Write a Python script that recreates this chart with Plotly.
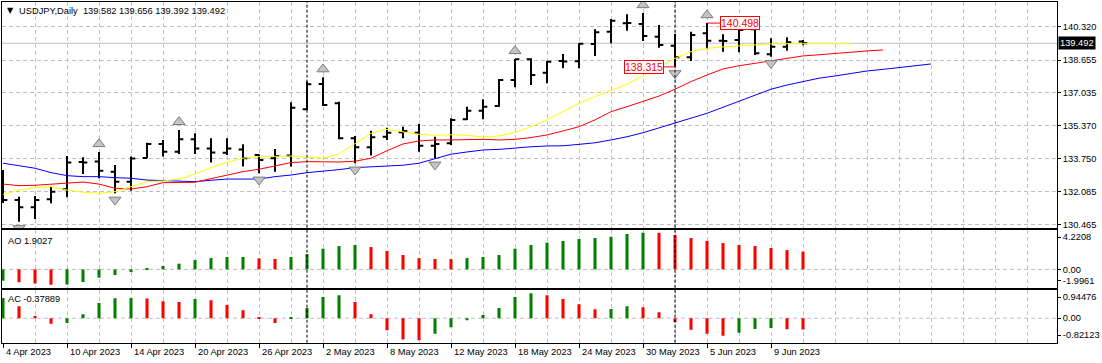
import plotly.graph_objects as go
from datetime import date

# ---------------- data ----------------
symbol = "USDJPY,Daily"
dates = ["2023-04-04", "2023-04-05", "2023-04-06", "2023-04-07", "2023-04-10", "2023-04-11",
         "2023-04-12", "2023-04-13", "2023-04-14", "2023-04-17", "2023-04-18", "2023-04-19",
         "2023-04-20", "2023-04-21", "2023-04-24", "2023-04-25", "2023-04-26", "2023-04-27",
         "2023-04-28", "2023-05-01", "2023-05-02", "2023-05-03", "2023-05-04", "2023-05-05",
         "2023-05-08", "2023-05-09", "2023-05-10", "2023-05-11", "2023-05-12", "2023-05-15",
         "2023-05-16", "2023-05-17", "2023-05-18", "2023-05-19", "2023-05-22", "2023-05-23",
         "2023-05-24", "2023-05-25", "2023-05-26", "2023-05-29", "2023-05-30", "2023-05-31",
         "2023-06-01", "2023-06-02", "2023-06-05", "2023-06-06", "2023-06-07", "2023-06-08",
         "2023-06-09", "2023-06-12", "2023-06-13"]
opens = [132.80, 131.68, 131.31, 131.71, 132.21, 133.57, 133.59, 133.09, 132.59, 133.77,
         134.47, 134.08, 134.70, 134.25, 134.03, 134.20, 133.92, 133.76, 133.89, 136.20,
         137.46, 136.50, 134.75, 134.30, 134.83, 135.05, 135.03, 134.38, 134.50, 135.70,
         136.13, 136.36, 137.66, 138.69, 138.02, 138.61, 138.60, 139.46, 140.07, 140.49,
         140.45, 139.82, 139.37, 138.79, 139.99, 139.62, 139.66, 140.19, 138.94, 139.32, 139.582]
highs = [133.17, 131.84, 131.88, 132.34, 133.87, 133.81, 134.07, 133.42, 133.84, 134.53,
         134.67, 135.17, 135.00, 134.75, 134.75, 134.45, 133.95, 134.22, 136.55, 137.58,
         137.80, 136.58, 134.87, 135.13, 135.28, 135.33, 135.47, 134.83, 135.75, 136.33,
         136.70, 137.71, 138.71, 138.74, 138.62, 138.96, 139.49, 140.19, 140.70, 140.94,
         141.00, 140.40, 139.95, 140.07, 140.498, 139.94, 140.24, 140.24, 139.74, 139.79, 139.656]
lows = [131.53, 130.59, 130.73, 131.51, 131.81, 132.97, 132.76, 132.01, 132.14, 133.76,
        133.84, 133.97, 133.97, 133.54, 133.92, 133.34, 133.01, 133.09, 133.34, 136.16,
        136.36, 134.70, 133.51, 133.89, 134.67, 134.75, 134.08, 133.76, 134.42, 135.67,
        135.70, 136.33, 137.30, 137.41, 137.50, 138.24, 138.24, 138.86, 139.49, 140.12,
        139.61, 139.27, 138.315, 138.61, 139.19, 139.07, 139.04, 138.91, 138.82, 139.12, 139.392]
closes = [131.68, 131.31, 131.68, 132.09, 133.54, 133.55, 133.14, 132.59, 133.74, 134.47,
          134.08, 134.70, 134.25, 134.05, 134.25, 133.76, 133.67, 133.87, 136.28, 137.45,
          136.41, 134.75, 134.30, 134.80, 135.03, 135.12, 134.38, 134.47, 135.67, 136.13,
          136.33, 137.66, 138.69, 137.91, 138.57, 138.58, 139.47, 140.04, 140.62, 140.50,
          139.85, 139.41, 138.79, 139.90, 139.62, 139.60, 140.15, 138.99, 139.32, 139.54, 139.492]

# Alligator lines (already shifted forward: lips +3, teeth +5, jaw +8 bars)
lips = [131.96, 132.17, 132.29, 132.34, 132.17, 132.06, 132.01, 132.09, 132.34, 132.59,
        132.62, 132.72, 132.97, 133.29, 133.56, 133.76, 133.84, 133.87, 133.87, 133.81,
        133.76, 133.97, 134.50, 135.00, 135.20, 135.08, 134.95, 134.90, 134.93, 134.90,
        134.82, 134.87, 135.05, 135.33, 135.67, 136.08, 136.50, 136.83, 137.16, 137.45,
        137.86, 138.32, 138.74, 139.07, 139.24, 139.31, 139.36, 139.42, 139.46, 139.47,
        139.47, 139.47, 139.47, 139.47]
teeth = [132.47, 132.39, 132.41, 132.46, 132.54, 132.57, 132.47, 132.26, 132.22, 132.34,
         132.54, 132.56, 132.56, 132.74, 132.92, 133.09, 133.21, 133.37, 133.54, 133.59,
         133.59, 133.57, 133.61, 133.76, 134.13, 134.47, 134.62, 134.67, 134.67, 134.70,
         134.70, 134.67, 134.70, 134.79, 134.92, 135.12, 135.33, 135.67, 136.08, 136.33,
         136.58, 136.86, 137.20, 137.58, 137.91, 138.21, 138.37, 138.49, 138.61, 138.74,
         138.86, 138.92, 138.99, 139.06, 139.11, 139.16]
jaw = [133.51, 133.39, 133.26, 133.04, 132.89, 132.84, 132.84, 132.79, 132.76, 132.67,
       132.64, 132.59, 132.59, 132.66, 132.72, 132.72, 132.72, 132.84, 132.92, 133.04,
       133.11, 133.19, 133.29, 133.34, 133.37, 133.41, 133.51, 133.72, 133.96, 134.07,
       134.17, 134.20, 134.27, 134.33, 134.37, 134.38, 134.45, 134.53, 134.67, 134.83,
       135.03, 135.28, 135.50, 135.75, 136.00, 136.30, 136.61, 136.91, 137.20, 137.41,
       137.58, 137.75, 137.86, 137.99, 138.11, 138.19, 138.29, 138.37, 138.46]

ao = [-1.22, -1.37, -1.52, -1.65, -1.63, -1.36, -0.89, -0.61, -0.29, 0.14, 0.36, 0.61,
      1.00, 1.21, 1.32, 1.33, 1.18, 1.12, 1.32, 1.64, 2.22, 2.50, 2.61, 2.39, 1.97, 1.54,
      1.21, 1.11, 1.10, 1.21, 1.32, 1.54, 2.22, 2.61, 2.86, 3.04, 3.25, 3.36, 3.50, 3.79,
      3.93, 3.92, 3.68, 3.36, 3.04, 2.82, 2.61, 2.50, 2.29, 2.07, 1.9027]
ac = [0.68, 0.40, 0.07, -0.19, -0.16, 0.13, 0.51, 0.67, 0.68, 0.66, 0.57, 0.54, 0.64,
      0.60, 0.44, 0.27, 0.02, -0.16, 0.01, 0.34, 0.71, 0.77, 0.54, 0.13, -0.40, -0.71,
      -0.74, -0.52, -0.30, -0.07, 0.11, 0.34, 0.71, 0.84, 0.77, 0.64, 0.47, 0.30, 0.31,
      0.40, 0.37, 0.20, -0.13, -0.39, -0.52, -0.59, -0.49, -0.36, -0.33, -0.37, -0.37889]

fractal_up = [6, 11, 20, 32, 40, 44]
fractal_down = [1, 7, 16, 22, 27, 42, 48]
swing_high_idx = 44
swing_low_idx = 42

price_ticks = [140.320, 138.655, 137.035, 135.370, 133.750, 132.085, 130.465]
price_range = [130.279, 141.55]
ao_scale = [-1.9961, 4.2208]
ac_scale = [-0.82123, 0.94476]
label_every = 4

# ---------------- style / geometry ----------------
W, H = 1102, 363
GRID = "#c0c0c0"
GREEN = "#008000"
RED = "#ff0000"
FONT = "Liberation Sans"
FS = 9.3
PX_LEFT, PX_RIGHT = 2, 1057
BAR0_PX, BAR_STEP = 3, 16
MAIN_PX = (2, 228)
AO_PX = (230, 288)
AC_PX = (290, 342.7)


def fx(px):
    return px / W


def fy(px):
    return 1 - px / H


def dom(p):
    return [fy(p[1]), fy(p[0])]


idx = list(range(len(dates)))
xr = [(PX_LEFT - BAR0_PX) / BAR_STEP, (PX_RIGHT - BAR0_PX) / BAR_STEP]
ppx = (price_range[1] - price_range[0]) / (MAIN_PX[1] - MAIN_PX[0])
dts = [date.fromisoformat(d) for d in dates]


def hist_colors(v):
    cols = [GREEN]
    for k in range(1, len(v)):
        cols.append(GREEN if v[k] > v[k - 1] else RED)
    return cols


fig = go.Figure()

# Alligator
for vals, col in [(jaw, "#0000ff"), (teeth, "#ff0000"), (lips, "#ffff00")]:
    fig.add_trace(go.Scatter(x=list(range(len(vals))), y=vals, mode="lines",
                             line=dict(color=col, width=1), xaxis="x", yaxis="y",
                             hoverinfo="skip"))

# OHLC bars
fig.add_trace(go.Ohlc(x=idx, open=opens, high=highs, low=lows, close=closes,
                      increasing=dict(line=dict(color="black", width=2)),
                      decreasing=dict(line=dict(color="black", width=2)),
                      tickwidth=0.27, xaxis="x", yaxis="y"))

# Fractals
fig.add_trace(go.Scatter(x=fractal_up, y=[highs[i] + 8 * ppx for i in fractal_up],
                         mode="markers", xaxis="x", yaxis="y",
                         marker=dict(symbol="triangle-up", size=10.5, color="#c4c4c4",
                                     line=dict(color="#7c7c7c", width=1))))
fig.add_trace(go.Scatter(x=fractal_down, y=[lows[i] - 6.5 * ppx for i in fractal_down],
                         mode="markers", xaxis="x", yaxis="y",
                         marker=dict(symbol="triangle-down", size=10.5, color="#c4c4c4",
                                     line=dict(color="#7c7c7c", width=1))))

# AO / AC histograms
fig.add_trace(go.Bar(x=idx, y=ao, width=0.19, marker=dict(color=hist_colors(ao), line=dict(width=0)),
                     xaxis="x2", yaxis="y2"))
fig.add_trace(go.Bar(x=idx, y=ac, width=0.19, marker=dict(color=hist_colors(ac), line=dict(width=0)),
                     xaxis="x3", yaxis="y3"))

label_idx = list(range(0, len(dates), label_every))

xcommon = dict(domain=[fx(PX_LEFT), fx(PX_RIGHT)], range=xr, showline=True, mirror=True,
               linecolor="black", linewidth=1, zeroline=False, showticklabels=False,
               tickmode="array", tickvals=label_idx, showgrid=True, gridcolor=GRID,
               griddash="4px,3px", gridwidth=1,
               minor=dict(tickmode="linear", tick0=0, dtick=2, showgrid=True, gridcolor=GRID,
                          griddash="4px,3px", gridwidth=1, ticks=""))


def sub_ticks(rng, px):
    k = (rng[1] - rng[0]) / (px[1] - px[0])
    return [rng[1] - 7 * k, 0, rng[0] + 7.5 * k], [str(rng[1]), "0.00", str(rng[0])]


ao_tv, ao_tt = sub_ticks(ao_scale, AO_PX)
ac_tv, ac_tt = sub_ticks(ac_scale, AC_PX)

ycommon = dict(side="right", showline=True, mirror=True, linecolor="black", linewidth=1,
               zeroline=False, ticks="outside", ticklen=3, tickcolor="black",
               tickfont=dict(family=FONT, size=FS, color="black"), tickmode="array")

fig.update_layout(
    width=W, height=H, autosize=False, template="none",
    margin=dict(l=0, r=0, t=0, b=0, pad=0),
    paper_bgcolor="white", plot_bgcolor="white", showlegend=False,
    font=dict(family=FONT, size=FS, color="black"),
    xaxis=dict(xcommon, anchor="y", rangeslider=dict(visible=False), ticks=""),
    xaxis2=dict(xcommon, anchor="y2", matches="x", ticks=""),
    xaxis3=dict(xcommon, anchor="y3", matches="x", ticks="outside", ticklen=4, tickcolor="black"),
    yaxis=dict(ycommon, domain=dom(MAIN_PX), range=price_range, anchor="x",
               tickvals=price_ticks, ticktext=[f"{v:.3f}" for v in price_ticks],
               showgrid=True, gridcolor=GRID, griddash="4px,3px"),
    yaxis2=dict(ycommon, domain=dom(AO_PX), range=ao_scale, anchor="x2",
                tickvals=ao_tv, ticktext=ao_tt, showgrid=False),
    yaxis3=dict(ycommon, domain=dom(AC_PX), range=ac_scale, anchor="x3",
                tickvals=ac_tv, ticktext=ac_tt, showgrid=False),
)

shapes = []
# bid line
shapes.append(dict(type="line", xref="x domain", x0=0, x1=1, yref="y", y0=closes[-1], y1=closes[-1],
                   line=dict(color=GRID, width=1), layer="below"))
# zero lines
for ya in ["y2", "y3"]:
    shapes.append(dict(type="line", xref=ya.replace("y", "x") + " domain", x0=0, x1=1, yref=ya,
                       y0=0, y1=0, line=dict(color=GRID, width=1, dash="4px,3px"), layer="below"))
# month separators
for k in range(1, len(dts)):
    if dts[k].month != dts[k - 1].month:
        shapes.append(dict(type="line", xref="x", x0=k, x1=k, yref="paper",
                           y0=fy(AC_PX[1]), y1=fy(MAIN_PX[0]),
                           line=dict(color="black", width=1, dash="3px,2px"), layer="above"))
fig.update_layout(shapes=shapes)

ann = []
ann.append(dict(xref="paper", yref="paper", x=fx(5), y=fy(10), xanchor="left", yanchor="middle",
                text="▼", showarrow=False, font=dict(family="DejaVu Sans", size=8, color="black")))
ann.append(dict(xref="paper", yref="paper", x=fx(17), y=fy(11), xanchor="left", yanchor="middle",
                text=f"{symbol}  {opens[-1]:.3f} {highs[-1]:.3f} {lows[-1]:.3f} {closes[-1]:.3f}",
                showarrow=False, font=dict(family=FONT, size=FS, color="black")))
ann.append(dict(xref="paper", yref="paper", x=fx(6), y=fy(241), xanchor="left", yanchor="middle",
                text=f"AO {ao[-1]:.4f}", showarrow=False, font=dict(family=FONT, size=FS, color="black")))
ann.append(dict(xref="paper", yref="paper", x=fx(6), y=fy(299), xanchor="left", yanchor="middle",
                text=f"AC {ac[-1]:.5f}", showarrow=False, font=dict(family=FONT, size=FS, color="black")))
# current price box
ann.append(dict(xref="paper", yref="y", x=fx(PX_RIGHT + 1), y=closes[-1], xanchor="left",
                yanchor="middle", text=f"{closes[-1]:.3f}", showarrow=False, bgcolor="black",
                borderpad=1, font=dict(family=FONT, size=FS, color="white")))
# swing labels
ann.append(dict(xref="x", yref="y", x=swing_high_idx, y=highs[swing_high_idx],
                text=f"{highs[swing_high_idx]:.3f}", showarrow=True, arrowhead=0, arrowwidth=1,
                arrowcolor=RED, ax=33, ay=0, bgcolor="white", bordercolor=RED, borderwidth=1,
                borderpad=0, font=dict(family=FONT, size=10.5, color=RED)))
ann.append(dict(xref="x", yref="y", x=swing_low_idx, y=lows[swing_low_idx],
                text=f"{lows[swing_low_idx]:.3f}", showarrow=True, arrowhead=0, arrowwidth=1,
                arrowcolor=RED, ax=-31, ay=0, bgcolor="white", bordercolor=RED, borderwidth=1,
                borderpad=0, font=dict(family=FONT, size=10.5, color=RED)))
# date labels
for i in label_idx:
    d = dts[i]
    ann.append(dict(xref="x3", yref="paper", x=i, y=fy(352), xanchor="left", yanchor="middle",
                    xshift=1, text=f"{d.day} {d.strftime('%b')} {d.year}", showarrow=False,
                    font=dict(family=FONT, size=FS, color="black")))
fig.update_layout(annotations=ann)

fig.write_html("out.html", config={"displayModeBar": False},
               post_script="document.body.style.margin='0';document.body.style.overflow='hidden';")
